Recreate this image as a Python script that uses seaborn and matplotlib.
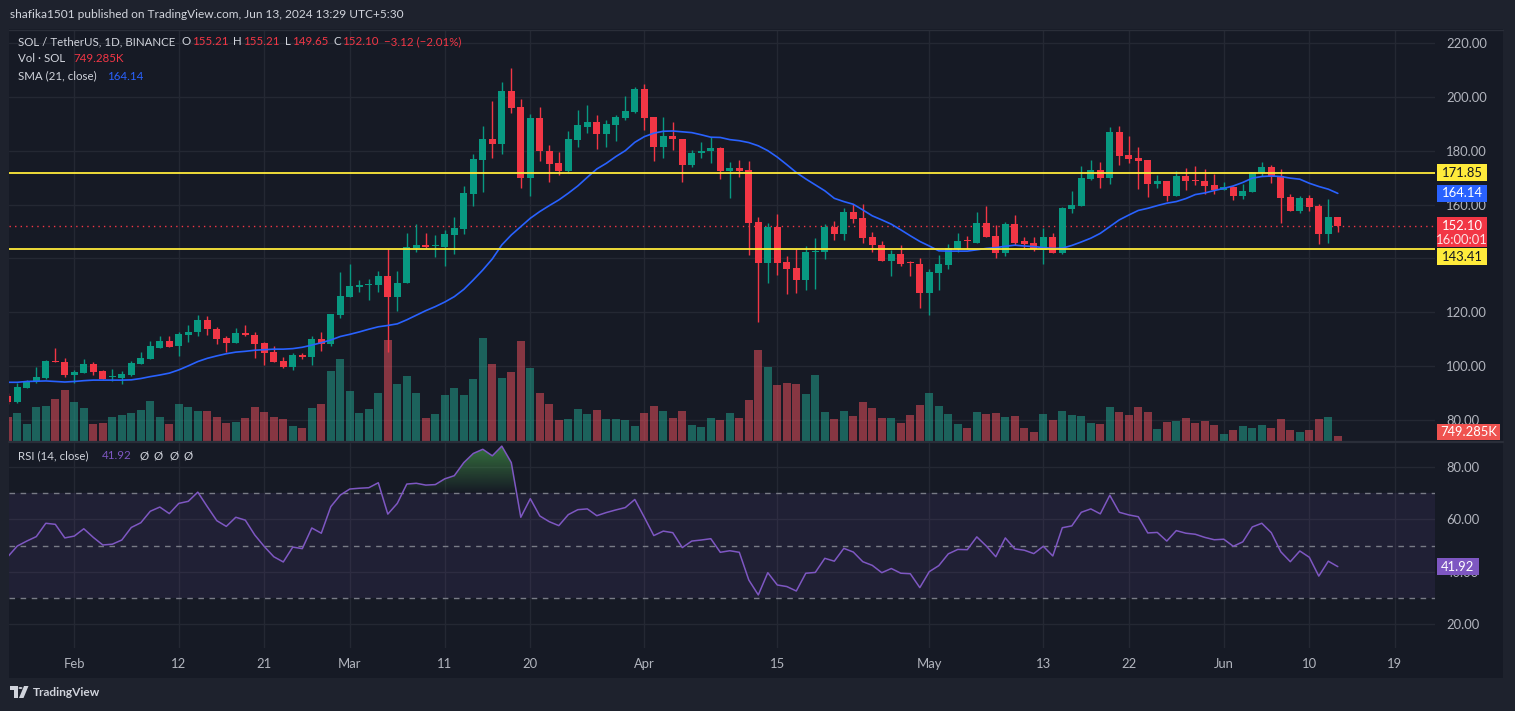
import numpy as np
import pandas as pd
import matplotlib
matplotlib.use("Agg")
import matplotlib.pyplot as plt
import seaborn as sns
from matplotlib.patches import Rectangle, Polygon, Circle
from matplotlib.path import Path

# ---------------- data ----------------
publish_line = "shafika1501 published on TradingView.com, Jun 13, 2024 13:29 UTC+5:30"
symbol_title = "SOL / TetherUS, 1D, BINANCE"
start_date = "2024-01-25"

opens = [88.9, 86.8, 92.0, 94.1, 95.5, 101.9, 101.4, 96.7, 97.6, 100.8,
         98.1, 95.9, 95.6, 96.7, 100.8, 102.7, 106.9, 109.4, 107.3, 111.7,
         112.5, 117.2, 113.8, 110.5, 108.7, 112.3, 111.6, 108.6, 105.3, 101.9,
         99.8, 104.2, 103.5, 110.1, 108.3, 119.0, 125.8, 129.5, 130.2, 130.2,
         133.5, 125.5, 130.7, 144.0, 145.0, 144.5, 144.4, 148.7, 151.0, 164.0,
         176.7, 184.4, 182.3, 202.2, 196.2, 170.0, 192.0, 179.9, 175.3, 172.5,
         184.0, 188.8, 190.7, 186.3, 189.7, 192.3, 194.4, 203.0, 192.5, 181.5,
         185.5, 184.4, 174.5, 179.0, 179.7, 181.0, 172.6, 173.6, 172.9, 153.4,
         138.4, 151.7, 138.7, 136.5, 131.8, 142.2, 142.4, 151.7, 148.9, 157.3,
         155.0, 148.0, 145.0, 139.2, 141.7, 138.5, 138.0, 127.0, 134.7, 137.7,
         143.6, 146.5, 145.9, 153.2, 148.4, 142.0, 152.8, 146.5, 145.8, 143.2,
         148.0, 142.0, 158.4, 159.5, 169.5, 172.9, 169.9, 187.0, 178.4, 177.3,
         176.6, 167.7, 168.8, 163.2, 170.6, 169.2, 168.8, 167.3, 165.4, 166.5,
         163.2, 164.7, 171.7, 174.0, 170.6, 162.8, 157.6, 162.5, 159.5, 149.1,
         155.21]
highs = [90.0, 93.9, 94.8, 99.7, 102.3, 106.8, 103.1, 98.6, 102.7, 101.6,
         98.6, 98.8, 98.1, 101.8, 105.3, 109.4, 111.2, 111.0, 112.7, 115.3,
         119.0, 118.6, 114.7, 111.2, 114.3, 115.1, 112.5, 108.8, 107.3, 103.5,
         104.9, 104.7, 111.2, 112.5, 119.4, 135.0, 138.0, 132.0, 132.4, 135.4,
         143.4, 135.4, 149.5, 152.8, 149.5, 148.7, 150.6, 155.4, 166.9, 178.8,
         189.2, 198.5, 205.5, 210.7, 199.2, 193.7, 196.2, 182.1, 179.5, 187.3,
         195.1, 197.0, 193.3, 191.4, 193.3, 200.3, 203.6, 204.8, 192.5, 192.5,
         190.7, 184.4, 180.3, 183.3, 185.1, 181.3, 175.8, 176.6, 176.2, 155.4,
         153.2, 156.5, 140.9, 143.4, 144.6, 147.6, 152.8, 153.9, 158.7, 160.2,
         160.2, 149.8, 146.5, 143.3, 145.0, 139.1, 140.2, 136.1, 141.3, 145.4,
         149.5, 148.4, 157.3, 159.5, 152.4, 153.5, 156.2, 148.0, 148.0, 151.3,
         149.5, 159.1, 165.1, 174.3, 176.6, 175.8, 188.8, 189.2, 185.5, 181.4,
         176.6, 171.0, 168.8, 172.5, 173.6, 174.3, 173.2, 171.4, 168.4, 166.9,
         167.7, 172.1, 175.8, 174.7, 173.2, 164.0, 163.2, 163.6, 160.2, 162.1,
         155.21]
lows = [86.0, 86.2, 91.8, 93.6, 95.3, 101.4, 96.1, 93.7, 97.4, 96.7,
        95.1, 94.3, 93.3, 96.5, 100.8, 102.7, 106.9, 107.1, 103.6, 108.8,
        111.0, 111.6, 108.3, 105.3, 108.5, 111.0, 103.2, 100.6, 101.7, 99.2,
        98.7, 102.6, 100.6, 105.8, 107.3, 117.7, 125.8, 127.7, 124.6, 127.7,
        105.4, 120.3, 130.7, 142.5, 144.0, 140.7, 137.0, 141.7, 149.1, 159.5,
        164.8, 177.4, 178.8, 194.1, 166.3, 163.0, 176.3, 168.2, 170.8, 171.9,
        181.5, 186.5, 180.5, 181.5, 183.7, 191.2, 194.1, 187.5, 176.3, 177.4,
        180.4, 168.2, 174.1, 177.4, 175.6, 169.6, 162.6, 170.4, 141.4, 116.2,
        130.7, 134.0, 126.9, 127.3, 128.1, 128.8, 139.8, 146.9, 146.9, 153.3,
        145.9, 142.5, 139.1, 133.3, 137.3, 133.6, 121.7, 118.8, 128.3, 136.1,
        142.4, 143.4, 145.9, 148.0, 140.2, 140.9, 145.0, 143.5, 142.8, 138.0,
        142.0, 141.7, 156.9, 159.5, 169.1, 166.2, 167.7, 174.7, 175.5, 165.8,
        162.8, 166.2, 161.3, 163.2, 165.4, 167.3, 163.9, 163.9, 165.4, 161.7,
        162.1, 164.7, 170.6, 168.0, 153.2, 157.6, 156.9, 157.6, 145.4, 145.8,
        149.65]
closes = [86.8, 92.2, 94.5, 96.0, 101.9, 101.7, 96.7, 97.9, 100.8, 98.0,
          95.4, 96.1, 97.1, 101.1, 103.1, 107.3, 109.4, 107.1, 112.0, 112.8,
          117.2, 113.7, 110.2, 108.7, 112.3, 111.5, 108.4, 105.0, 101.7, 99.8,
          104.2, 103.5, 110.0, 108.3, 119.4, 126.1, 129.8, 130.2, 130.5, 133.5,
          125.5, 130.9, 144.3, 145.0, 144.3, 144.7, 149.1, 151.3, 164.3, 176.9,
          184.4, 182.3, 202.2, 196.0, 170.0, 192.0, 179.7, 175.2, 172.5, 184.4,
          189.6, 190.7, 186.3, 189.9, 192.5, 194.8, 203.0, 192.3, 181.5, 185.5,
          184.2, 174.5, 179.2, 179.9, 181.0, 172.6, 173.6, 172.6, 153.3, 138.4,
          151.7, 138.4, 136.1, 131.8, 142.4, 142.8, 151.7, 148.9, 157.3, 154.8,
          147.7, 144.8, 139.2, 141.7, 138.1, 138.3, 127.0, 135.0, 137.9, 143.9,
          146.5, 146.3, 153.2, 148.0, 142.0, 152.8, 145.8, 145.4, 143.5, 148.0,
          142.0, 158.7, 159.9, 169.9, 172.9, 169.9, 187.0, 178.1, 176.9, 176.2,
          167.7, 168.8, 163.2, 170.6, 168.8, 168.9, 166.9, 165.4, 166.5, 163.2,
          165.1, 172.1, 174.0, 170.3, 162.5, 157.6, 162.5, 159.1, 149.1, 155.22,
          152.10]
volumes_k = [3600, 4200, 2550, 5100, 5250, 6300, 7650, 5850, 4950, 2550,
             2700, 3600, 3900, 4200, 4650, 6000, 3600, 2550, 5550, 5100,
             4500, 4500, 3600, 2700, 2850, 3450, 5100, 4350, 3600, 3300,
             2250, 1950, 4950, 5550, 10500, 12300, 7500, 4200, 4800, 7200,
             15150, 8550, 9750, 7200, 3450, 4050, 6900, 7950, 6900, 9300,
             15450, 11550, 9450, 10350, 15000, 10950, 7200, 5550, 3150, 3300,
             4800, 4050, 4650, 3300, 3300, 3150, 2250, 4200, 5250, 4500,
             3450, 4500, 2400, 2100, 3450, 3150, 4200, 3450, 6150, 13650,
             11100, 8400, 8700, 8550, 7050, 9900, 4350, 3300, 4500, 3750,
             5850, 4950, 3450, 3450, 2700, 3900, 5400, 7200, 5250, 4050,
             2550, 1950, 4350, 4050, 4200, 3600, 3750, 1950, 1350, 4050,
             3150, 4500, 3900, 3750, 2700, 2550, 5100, 4350, 3900, 5100,
             4350, 1800, 2850, 3000, 3450, 2700, 3000, 2400, 1050, 1650,
             2250, 1950, 2400, 1950, 3300, 1650, 1350, 1650, 3300, 3600,
             749.285]
sma21 = [94.0, 94.0, 94.3, 94.4, 94.5, 94.3, 94.1, 94.3, 94.6, 94.8,
         94.8, 94.8, 94.8, 94.9, 95.4, 96.1, 96.7, 97.4, 98.6, 100.1,
         101.7, 102.9, 103.8, 104.6, 105.2, 105.5, 105.9, 106.1, 106.3, 106.3,
         106.5, 107.0, 107.8, 108.7, 109.7, 111.0, 111.8, 112.7, 113.7, 114.6,
         115.1, 115.7, 117.2, 118.9, 120.6, 122.1, 123.8, 125.8, 128.5, 132.0,
         135.7, 139.8, 145.0, 148.7, 151.8, 154.9, 157.4, 159.6, 161.7, 164.2,
         166.9, 170.1, 173.2, 175.3, 177.8, 180.0, 183.1, 185.2, 186.5, 187.2,
         187.3, 187.0, 186.7, 185.9, 185.0, 184.9, 184.1, 183.7, 183.0, 181.8,
         180.0, 177.6, 174.8, 171.9, 169.5, 167.3, 165.1, 162.3, 161.1, 160.1,
         158.0, 155.8, 154.3, 152.7, 150.6, 148.4, 146.3, 144.6, 142.8, 142.7,
         142.7, 142.7, 143.2, 143.7, 144.0, 144.5, 144.9, 144.6, 144.4, 144.0,
         143.7, 143.8, 144.8, 146.1, 147.5, 149.3, 151.8, 154.3, 156.1, 157.8,
         158.6, 159.6, 160.5, 161.1, 162.2, 163.7, 164.3, 165.2, 166.0, 166.9,
         168.2, 169.8, 170.4, 170.6, 170.4, 169.8, 169.4, 167.9, 166.7, 165.7,
         164.14]
rsi14 = [45.7, 49.8, 51.7, 53.4, 58.5, 58.1, 52.9, 53.6, 56.4, 53.1,
         50.2, 50.5, 52.1, 56.9, 58.7, 63.1, 64.7, 62.2, 66.1, 66.9,
         70.4, 64.85, 59.5, 57.3, 60.8, 59.7, 54.0, 49.6, 45.7, 43.7,
         49.4, 48.8, 56.7, 54.7, 64.85, 69.3, 71.6, 71.9, 72.1, 74.0,
         62.0, 66.1, 73.5, 73.8, 73.1, 73.3, 75.5, 76.7, 81.7, 85.2,
         86.8, 84.3, 88.0, 81.7, 60.8, 67.9, 61.3, 59.1, 57.6, 61.8,
         63.7, 64.0, 61.4, 62.6, 63.6, 64.5, 67.6, 60.8, 53.8, 55.5,
         54.9, 49.2, 51.7, 52.1, 52.6, 47.4, 48.0, 47.4, 36.8, 31.1,
         39.6, 34.9, 34.3, 32.6, 39.4, 39.7, 45.1, 44.0, 48.9, 47.5,
         43.8, 42.4, 39.6, 41.2, 39.4, 39.2, 33.9, 40.0, 42.3, 46.8,
         48.5, 48.4, 53.3, 49.8, 45.7, 52.9, 48.7, 48.2, 46.9, 49.7,
         46.0, 56.8, 57.5, 62.7, 64.0, 62.1, 69.2, 62.7, 61.7, 61.0,
         54.8, 55.0, 51.7, 55.7, 54.7, 54.3, 53.1, 52.2, 52.4, 49.7,
         51.4, 57.1, 58.5, 54.9, 47.6, 43.8, 47.9, 45.5, 38.3, 44.0,
         41.92]

level_upper = 171.85
level_lower = 143.41
bar_countdown = "16:00:01"

price_ticks = [80, 100, 120, 140, 160, 180, 200, 220]
price_ticks_hidden = [140]          # fully covered by the 143.41 label in the reference
rsi_ticks = [20, 40, 60, 80]
rsi_bands = [70, 50, 30]
date_ticks = ["2024-02-01", "2024-02-12", "2024-02-21", "2024-03-01", "2024-03-11",
              "2024-03-20", "2024-04-01", "2024-04-15", "2024-05-01", "2024-05-13",
              "2024-05-22", "2024-06-01", "2024-06-10", "2024-06-19"]
date_labels = ["Feb", "12", "21", "Mar", "11", "20", "Apr", "15", "May", "13",
               "22", "Jun", "10", "19"]

n = len(closes)
for arr in (opens, highs, lows, volumes_k, sma21, rsi14):
    assert len(arr) == n

dates = pd.date_range(start_date, periods=n, freq="D")
df = pd.DataFrame({"date": dates, "open": opens, "high": highs, "low": lows,
                   "close": closes, "volume": volumes_k, "sma": sma21, "rsi": rsi14})
df["x"] = (df["date"] - dates[0]).dt.days
tick_x = [(pd.Timestamp(d) - dates[0]).days for d in date_ticks]

# ---------------- style ----------------
W, H = 1515, 711
BG = "#161a25"
FRAME = "#1e222d"
GRID = "#242833"
TXT = "#b2b5be"
LEG = "#d1d4dc"
UP = "#089981"
DN = "#f23645"
VUP = "#22ab94"
VDN = "#f7525f"
SMA_C = "#2962ff"
RSI_C = "#7e57c2"
YEL = "#ffeb3b"

sns.set_theme(style="dark", rc={"axes.facecolor": BG, "figure.facecolor": FRAME})
plt.rcParams["font.family"] = ["Lato", "DejaVu Sans"]

fig = plt.figure(figsize=(W / 100, H / 100), dpi=100)
fig.patches.append(Rectangle((9 / W, 1 - 678 / H), (1503 - 9) / W, (678 - 29) / H,
                             transform=fig.transFigure, fc=BG, ec="none", zorder=-10))
renderer = fig.canvas.get_renderer()


def rect(l, t, r, b):
    return [l / W, 1 - b / H, (r - l) / W, (b - t) / H]


L_PX, R_PX = 9, 1435
P_TOP, P_BOT = 30, 441
R_TOP, R_BOT = 443, 648

ax = fig.add_axes(rect(L_PX, P_TOP, R_PX, P_BOT), label="price")
ax_v = fig.add_axes(rect(L_PX, P_TOP, R_PX, P_BOT), label="vol", sharex=ax)
ax_c = fig.add_axes(rect(L_PX, P_TOP, R_PX, P_BOT), label="candles", sharex=ax, sharey=ax)
ax_r = fig.add_axes(rect(L_PX, R_TOP, R_PX, R_BOT), label="rsi", sharex=ax)

xlim = ((L_PX - 7.8) / 9.5, (R_PX - 7.8) / 9.5)
ylim_p = (72.2, 224.8)
ylim_r = (10.8, 89.2)

for a in (ax, ax_r):
    a.set_facecolor(BG)
    for s in a.spines.values():
        s.set_visible(False)
for a in (ax_v, ax_c):
    a.patch.set_visible(False)
    a.axis("off")

TICK_FS = 9.4
# grid + ticks on price pane
ax.set_xlim(*xlim)
ax.set_ylim(*ylim_p)
ax.set_xticks(tick_x)
ax.yaxis.tick_right()
ax.set_yticks(price_ticks)
ax.set_yticklabels(["" if t in price_ticks_hidden else f"{t:.2f}" for t in price_ticks])
ax.tick_params(axis="y", length=0, pad=8, labelcolor=TXT, labelsize=TICK_FS)
ax.tick_params(axis="x", length=0, labelbottom=False)
ax.grid(True, color=GRID, linewidth=1)
ax.set_xlabel("")
ax.set_ylabel("")

# volume
up = df["close"] >= df["open"]
ax_v.bar(df["x"], df["volume"], width=0.82, color=np.where(up, VUP, VDN), alpha=0.5, linewidth=0)
ax_v.set_ylim(0, (P_BOT - P_TOP) * volumes_k[-1] / 5.0)

# candles
ccol = np.where(up, UP, DN)
ax_c.vlines(df["x"], df["low"], df["high"], colors=ccol, linewidth=1, zorder=2)
body_b = np.minimum(df["open"], df["close"])
body_h = np.maximum((df["close"] - df["open"]).abs(), 0.38)
ax_c.bar(df["x"], body_h, bottom=body_b, width=0.7, color=ccol, linewidth=0, zorder=3)
sns.lineplot(data=df, x="x", y="sma", ax=ax_c, color=SMA_C, linewidth=1.2, zorder=4)
ax_c.axhline(level_upper, color=YEL, linewidth=1.3, zorder=5)
ax_c.axhline(level_lower, color=YEL, linewidth=1.3, zorder=5)
ax_c.axhline(closes[-1], color=DN, linewidth=1, linestyle=(0, (1, 3)), zorder=1)
ax_c.set_xlim(*xlim)
ax_c.set_ylim(*ylim_p)
ax_c.set_ylabel("")
ax_c.set_xlabel("")

# RSI pane
ax_r.set_ylim(*ylim_r)
ax_r.yaxis.tick_right()
ax_r.set_yticks(rsi_ticks)
ax_r.set_yticklabels([f"{t:.2f}" for t in rsi_ticks])
ax_r.set_xticks(tick_x)
ax_r.set_xticklabels(date_labels)
ax_r.tick_params(axis="y", length=0, pad=8, labelcolor=TXT, labelsize=TICK_FS)
ax_r.tick_params(axis="x", length=0, pad=7, labelcolor=TXT, labelsize=TICK_FS)
ax_r.grid(True, color=GRID, linewidth=1)
ax_r.axhspan(rsi_bands[2], rsi_bands[0], color=RSI_C, alpha=0.1, linewidth=0, zorder=1)
for b in rsi_bands:
    ax_r.axhline(b, color="#787b86", linewidth=1, linestyle=(0, (4, 4)), zorder=1.5)
rs = df["rsi"].to_numpy()
fb = ax_r.fill_between(df["x"], rsi_bands[0], rs, where=rs > rsi_bands[0],
                       interpolate=True, color="none", linewidth=0)
paths = fb.get_paths()
if paths:
    cp = Path.make_compound_path(*paths)
    grad = np.zeros((256, 1, 4))
    grad[..., 0], grad[..., 1], grad[..., 2] = 76 / 255, 175 / 255, 80 / 255
    grad[:, 0, 3] = np.linspace(1.0, 0.0, 256)
    im = ax_r.imshow(grad, extent=(xlim[0], xlim[1], 70, 100), origin="upper",
                     aspect="auto", zorder=2, interpolation="bilinear")
    im.set_clip_path(cp, transform=ax_r.transData)
sns.lineplot(data=df, x="x", y="rsi", ax=ax_r, color=RSI_C, linewidth=1.1, zorder=3)
ax_r.set_xlabel("")
ax_r.set_ylabel("")
ax_r.set_xlim(*xlim)
ax_r.set_ylim(*ylim_r)

# pane separators
fig.add_artist(plt.Line2D([9 / W, 1503 / W], [1 - 442 / H] * 2, color="#2a2e39",
                          linewidth=1.6, transform=fig.transFigure))
fig.add_artist(plt.Line2D([9 / W, 1503 / W], [1 - 29.5 / H] * 2, color="#2a2e39",
                          linewidth=1, transform=fig.transFigure))


# ---------------- texts ----------------
def ftext(xp, yp, s, color=LEG, size=9.3, ha="left", weight="normal", **kw):
    return fig.text(xp / W, 1 - yp / H, s, color=color, fontsize=size, ha=ha,
                    va="center", weight=weight, **kw)


def text_w(t):
    return t.get_window_extent(renderer=renderer).width


def fitted_size(s, target_px, size=10.0, weight="normal"):
    t = fig.text(0, 0, s, fontsize=size, weight=weight)
    w = text_w(t)
    t.remove()
    return size * target_px / w


head_fs = fitted_size(publish_line, 394)
leg_fs = fitted_size(symbol_title, 157)

ftext(10, 14.5, publish_line, color=LEG, size=head_fs)
ftext(18, 41.7, symbol_title, size=leg_fs)
chg = closes[-1] - closes[-2]
pct = chg / closes[-2] * 100
for lx, lab, val in [(182, "O", opens[-1]), (233, "H", highs[-1]),
                     (285, "L", lows[-1]), (333, "C", closes[-1])]:
    t = ftext(lx, 41.7, lab, size=leg_fs)
    ftext(lx + text_w(t) + 1, 41.7, f"{val:.2f}", color=DN, size=leg_fs)
ftext(384, 41.7, f"\u2212{abs(chg):.2f} (\u2212{abs(pct):.2f}%)", color=DN, size=leg_fs)
ftext(18, 59, "Vol \u00b7 SOL", size=leg_fs)
ftext(73, 59, f"{volumes_k[-1]:.3f}K", color=DN, size=leg_fs)
ftext(18, 76, "SMA (21, close)", size=leg_fs)
ftext(107, 76, f"{sma21[-1]:.2f}", color=SMA_C, size=leg_fs)
ftext(18, 455.7, "RSI (14, close)", size=leg_fs)
ftext(102, 455.7, f"{rsi14[-1]:.2f}", color=RSI_C, size=leg_fs)
for xx in (140, 154, 170, 184):
    ftext(xx, 455.7, "\u00d8", size=leg_fs)


def ypx(a, v):
    return H - a.transData.transform((0, v))[1]


def box(yc, text, fc, tc, x0=1437, x1=1487, h=17):
    fig.patches.append(Rectangle((x0 / W, 1 - (yc + h / 2) / H), (x1 - x0) / W, h / H,
                                 transform=fig.transFigure, fc=fc, ec="none", zorder=5))
    fig.text((x0 + x1) / 2 / W, 1 - yc / H, text, ha="center", va="center",
             color=tc, fontsize=TICK_FS, zorder=6)


box(ypx(ax, level_upper), f"{level_upper:.2f}", YEL, "#131722")
box(ypx(ax, sma21[-1]), f"{sma21[-1]:.2f}", SMA_C, "white")
yl = ypx(ax, closes[-1])
red_top = yl - 8.5
red_bot = red_top + 30
fig.patches.append(Rectangle((1437 / W, 1 - red_bot / H), 50 / W, 30 / H,
                             transform=fig.transFigure, fc=DN, ec="none", zorder=5))
fig.text(1462 / W, 1 - yl / H, f"{closes[-1]:.2f}", ha="center", va="center",
         color="white", fontsize=TICK_FS, zorder=6)
fig.text(1462 / W, 1 - (yl + 14) / H, bar_countdown, ha="center", va="center",
         color="#fbe3e5", fontsize=TICK_FS, zorder=6)
box(max(ypx(ax, level_lower), red_bot + 9.5), f"{level_lower:.2f}", YEL, "#131722")
yv = min(ypx(ax_v, volumes_k[-1]), P_BOT - 9.5)
box(yv, f"{volumes_k[-1]:.3f}K", "#ef5350", "white", x1=1500, h=16)
box(ypx(ax_r, rsi14[-1]), f"{rsi14[-1]:.2f}", RSI_C, "white", x1=1479)

# footer logo + name
lc = LEG
fig.patches.append(Polygon([(10 / W, 1 - 686 / H), (17.5 / W, 1 - 686 / H), (17.5 / W, 1 - 698 / H),
                            (14 / W, 1 - 698 / H), (14 / W, 1 - 690 / H), (10 / W, 1 - 690 / H)],
                           closed=True, transform=fig.transFigure, fc=lc, ec="none"))
fig.patches.append(Circle((20.5 / W, 1 - 688 / H), 2.0 / W, transform=fig.transFigure, fc=lc, ec="none"))
fig.patches.append(Polygon([(24 / W, 1 - 686 / H), (28.5 / W, 1 - 686 / H), (23.5 / W, 1 - 698 / H),
                            (19 / W, 1 - 698 / H)], closed=True, transform=fig.transFigure,
                           fc=lc, ec="none"))
ftext(33, 692, "TradingView", color=LEG, size=head_fs, weight="bold")

fig.savefig("out.png", dpi=100, facecolor=FRAME)
